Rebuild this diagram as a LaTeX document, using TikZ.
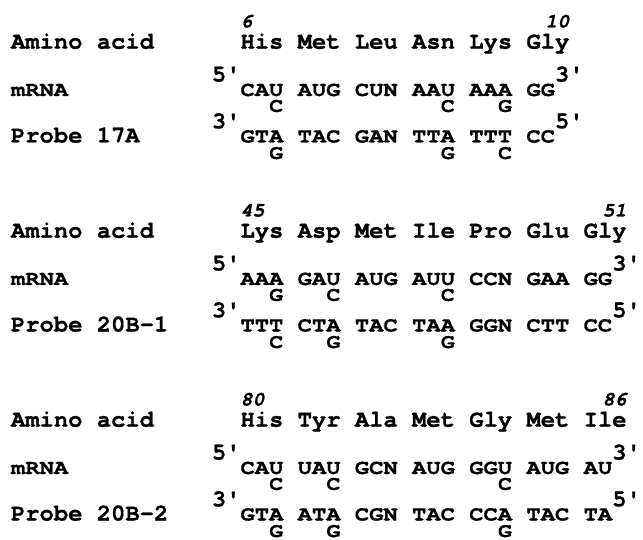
\documentclass[tikz,border=0pt]{standalone}
\usepackage{fontspec}
\newfontfamily\mono{texgyrecursor}[Extension=.otf, UprightFont=*-bold, ItalicFont=*-bolditalic, Ligatures=TeXOff, FakeBold=0.8]
\newfontfamily\seqmono{texgyrecursor}[Extension=.otf, UprightFont=*-bold, Ligatures=TeXOff, FakeStretch=1.15, FakeBold=0.8]
\tikzset{
  txt/.style={inner sep=0pt, outer sep=0pt, anchor=base west, text=black},
  lab/.style={txt, font=\mono\fontsize{23.83pt}{24pt}\selectfont},
  seq/.style={txt, font=\seqmono\fontsize{20.72pt}{21pt}\selectfont},
  wob/.style={txt, anchor=base, font=\seqmono\fontsize{20.2pt}{20pt}\selectfont},
  num/.style={txt, font=\mono\itshape\fontsize{20pt}{20pt}\selectfont},
}
% one block: #1 index, #2/#3 residue numbers, #4 amino acids, #5 mRNA,
% #6 alternative mRNA bases (column/base), #7 probe name, #8 probe, #9 alternative probe bases
\newcommand{\probeblock}[9]{%
  \begin{scope}[yshift={-189*(#1-1)}]
    \node[lab] (aa#1) at (11,490.3) {Amino acid};
    \node[lab] (aas#1) at (240.5,490.3) {#4};
    \node[num, anchor=base west] (fst#1) at ([yshift=21.2]aas#1.base west) {#2};
    \node[num, anchor=base east] (lst#1) at ([yshift=21.2]aas#1.base east) {#3};
    \node[seq] (ml#1) at (11,443) {mRNA};
    \node[seq] (m#1) at (240.5,443) {#5};
    \node[lab, anchor=base east] (mf#1) at ([yshift=14.5]m#1.base west) {5'};
    \node[lab, anchor=base west] (mt#1) at ([yshift=14.5]m#1.base east) {3'};
    \foreach \c/\b in {#6}
      \node[wob] at ([xshift={(\c+0.5)*14.3}, yshift=-15.9]m#1.base west) {\b};
    \node[lab] (pl#1) at (11,396.5) {#7};
    \node[seq] (p#1) at (240.5,396.5) {#8};
    \node[lab, anchor=base east] (pf#1) at ([yshift=14.2]p#1.base west) {3'};
    \node[lab, anchor=base west] (pt#1) at ([yshift=14.2]p#1.base east) {5'};
    \foreach \c/\b in {#9}
      \node[wob] at ([xshift={(\c+0.5)*14.3}, yshift=-16.5]p#1.base west) {\b};
  \end{scope}}
\begin{document}
\begin{tikzpicture}[x=1pt, y=1pt]
  \useasboundingbox[fill=white] (0,0) rectangle (643,539);
  \probeblock{1}{6}{10}{His Met Leu Asn Lys Gly}{CAU AUG CUN AAU AAA GG}{2/C,14/C,18/G}
    {Probe 17A}{GTA TAC GAN TTA TTT CC}{2/G,14/G,18/C}
  \probeblock{2}{45}{51}{Lys Asp Met Ile Pro Glu Gly}{AAA GAU AUG AUU CCN GAA GG}{2/G,6/C,14/C}
    {Probe 20B-1}{TTT CTA TAC TAA GGN CTT CC}{2/C,6/G,14/G}
  \probeblock{3}{80}{86}{His Tyr Ala Met Gly Met Ile}{CAU UAU GCN AUG GGU AUG AU}{2/C,6/C,18/C}
    {Probe 20B-2}{GTA ATA CGN TAC CCA TAC TA}{2/G,6/G,18/G}
\end{tikzpicture}
\end{document}
